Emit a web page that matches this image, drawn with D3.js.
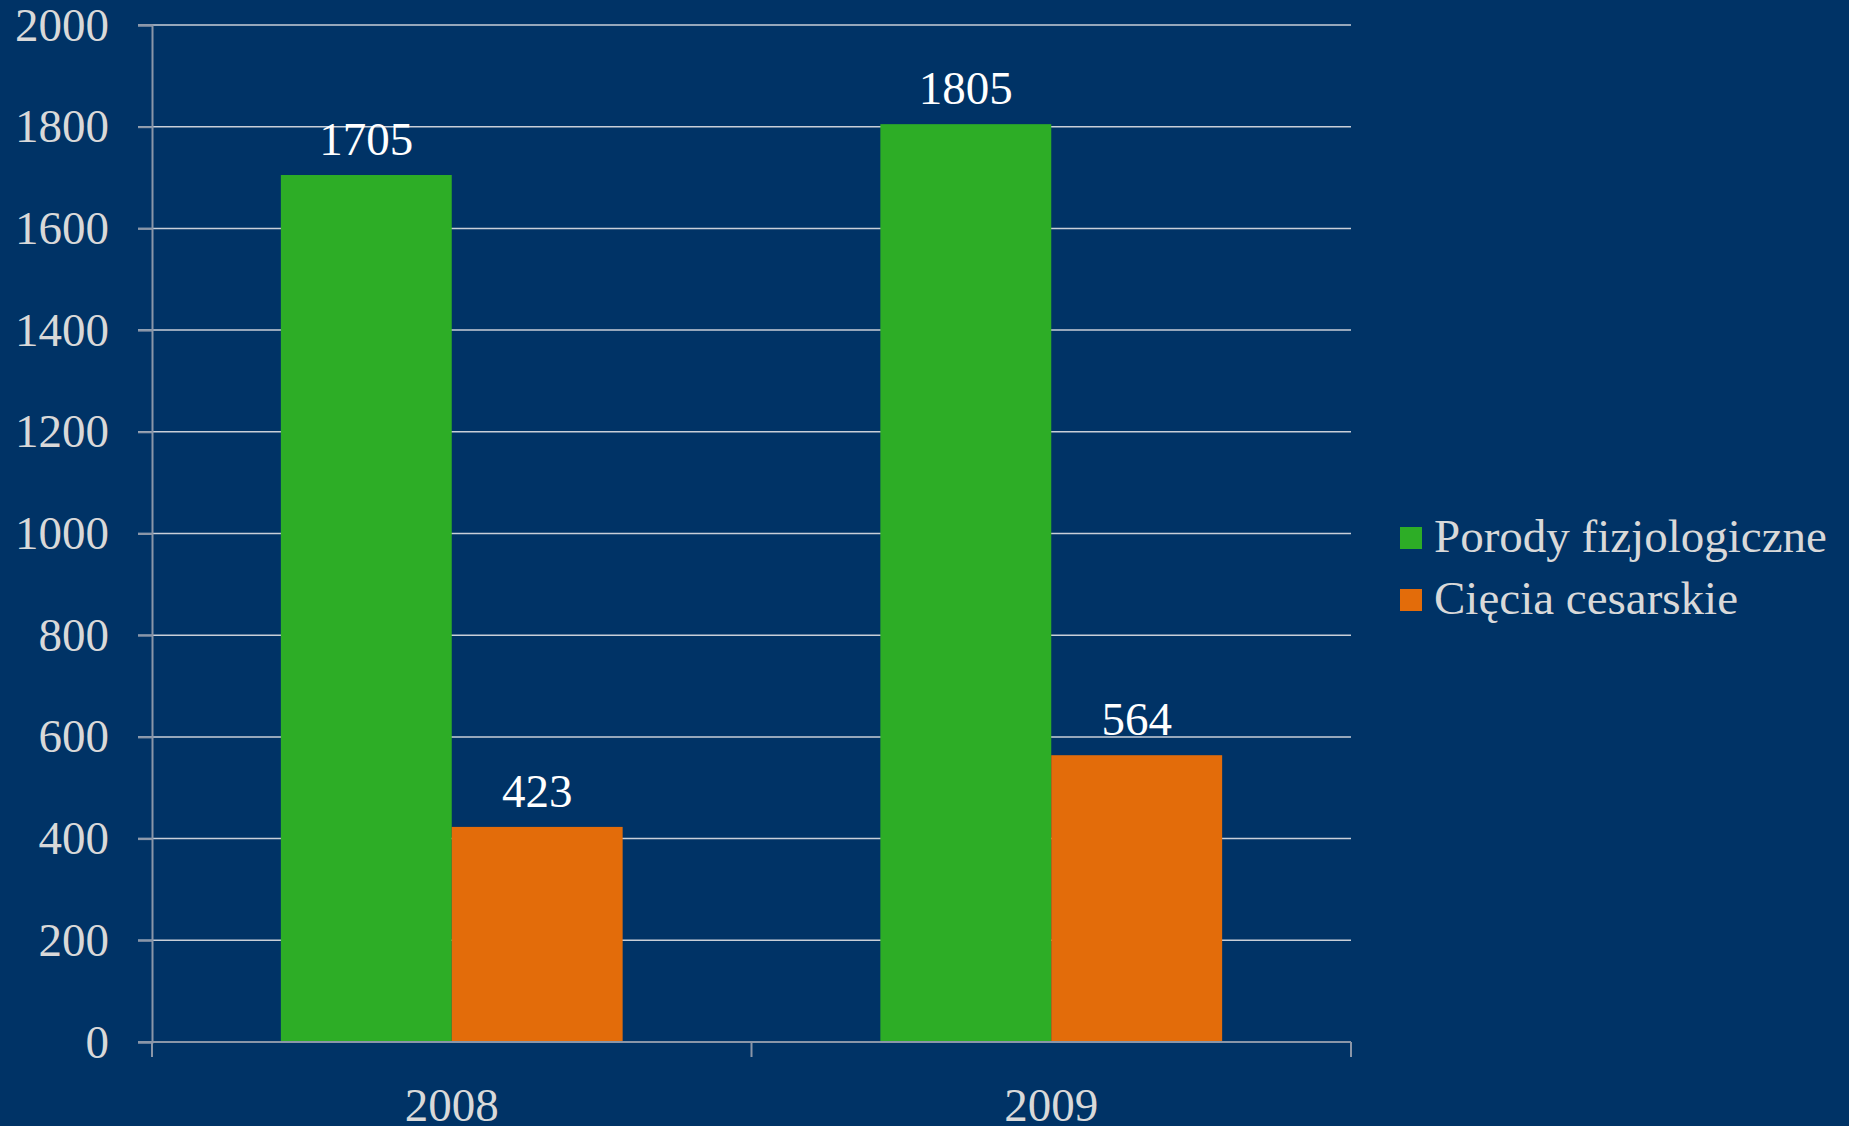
<!DOCTYPE html>
<html>
<head>
<meta charset="utf-8">
<script src="https://cdn.jsdelivr.net/npm/d3@7"></script>
<style>
  html, body { margin: 0; padding: 0; background: #003366; }
  svg { display: block; }
</style>
</head>
<body>
<svg id="chart"></svg>
<script>
// chart data
var years = ["2008", "2009"];
var seriesNames = ["Porody fizjologiczne", "Cięcia cesarskie"];
var porody = [1705, 1805];
var ciecia = [423, 564];
var yTicks = [0, 200, 400, 600, 800, 1000, 1200, 1400, 1600, 1800, 2000];
var colors = ["#2dad26", "#e36c0a"];

var width = 1849, height = 1126;
var svg = d3.select("#chart").attr("width", width).attr("height", height);
svg.append("rect").attr("width", width).attr("height", height).attr("fill", "#003366");

// plot area (note: "top" is a reserved window property, so use plotTop)
var plotLeft = 152, plotRight = 1351, plotTop = 25, plotBottom = 1042;
var font = "'Liberation Serif', 'Times New Roman', serif";

var x0 = d3.scaleBand().domain(years).range([plotLeft, plotRight]);
var x1 = d3.scaleBand().domain(seriesNames).range([0, x0.bandwidth()]).paddingInner(0).paddingOuter(0.754);
var y = d3.scaleLinear().domain([0, 2000]).range([plotBottom, plotTop]);

// gridlines
svg.append("g").selectAll("line").data(yTicks.filter(function (d) { return d > 0; }))
    .enter().append("line")
    .attr("x1", plotLeft - 14).attr("x2", plotRight)
    .attr("y1", function (d) { return y(d); }).attr("y2", function (d) { return y(d); })
    .attr("stroke", "#c9cfd8").attr("stroke-width", 1.5);

// bars
var rows = years.map(function (yr, i) { return { year: yr, vals: [porody[i], ciecia[i]] }; });
var groups = svg.append("g").selectAll("g").data(rows).enter().append("g")
    .attr("transform", function (d) { return "translate(" + x0(d.year) + ",0)"; });

groups.selectAll("rect").data(function (d) { return d.vals.map(function (v, j) { return { name: seriesNames[j], v: v, j: j }; }); })
    .enter().append("rect")
    .attr("x", function (d) { return x1(d.name); })
    .attr("width", x1.bandwidth())
    .attr("y", function (d) { return y(d.v); })
    .attr("height", function (d) { return plotBottom - y(d.v); })
    .attr("fill", function (d) { return colors[d.j]; });

groups.selectAll("text").data(function (d) { return d.vals.map(function (v, j) { return { name: seriesNames[j], v: v }; }); })
    .enter().append("text")
    .attr("x", function (d) { return x1(d.name) + x1.bandwidth() / 2; })
    .attr("y", function (d) { return y(d.v) - 20; })
    .attr("text-anchor", "middle")
    .attr("font-family", font).attr("font-size", 47)
    .attr("fill", "#ffffff")
    .text(function (d) { return d.v; });

// y axis
var yAxis = svg.append("g").attr("transform", "translate(" + plotLeft + ",0)")
    .call(d3.axisLeft(y).tickValues(yTicks).tickSize(14).tickPadding(29).tickFormat(d3.format("d")));
yAxis.select(".domain").attr("stroke", "#8a96a8").attr("stroke-width", 2);
yAxis.selectAll(".tick line").attr("stroke", "#8a96a8").attr("stroke-width", 2);
yAxis.selectAll("text").attr("font-family", font).attr("font-size", 47).attr("fill", "#d9d9d9");

// x axis
var xAxisLine = svg.append("g");
xAxisLine.append("line").attr("x1", plotLeft - 14).attr("x2", plotRight).attr("y1", plotBottom).attr("y2", plotBottom)
    .attr("stroke", "#8a96a8").attr("stroke-width", 2);
var edges = [plotLeft].concat(years.map(function (yr) { return x0(yr) + x0.bandwidth(); }));
xAxisLine.selectAll("line.tk").data(edges).enter().append("line").attr("class", "tk")
    .attr("x1", function (d) { return d; }).attr("x2", function (d) { return d; })
    .attr("y1", plotBottom).attr("y2", plotBottom + 15)
    .attr("stroke", "#8a96a8").attr("stroke-width", 2);
svg.append("g").selectAll("text").data(years).enter().append("text")
    .attr("x", function (d) { return x0(d) + x0.bandwidth() / 2; })
    .attr("y", 1121)
    .attr("text-anchor", "middle")
    .attr("font-family", font).attr("font-size", 47).attr("fill", "#d9d9d9")
    .text(function (d) { return d; });

// legend
var legend = svg.append("g").selectAll("g").data(seriesNames).enter().append("g")
    .attr("transform", function (d, i) { return "translate(1400," + (527 + i * 62) + ")"; });
legend.append("rect").attr("width", 22).attr("height", 22)
    .attr("fill", function (d, i) { return colors[i]; });
legend.append("text").attr("x", 34).attr("y", 25)
    .attr("font-family", font).attr("font-size", 47).attr("fill", "#d9d9d9")
    .text(function (d) { return d; });
</script>
</body>
</html>
